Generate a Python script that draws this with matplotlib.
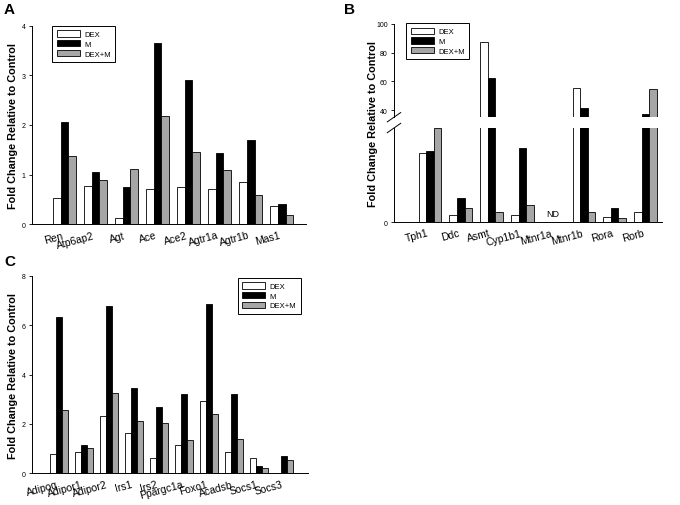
"""
Three-panel grouped bar chart: fold change of gene expression (DEX, M, DEX+M).
Writes out.png.
"""

import matplotlib
matplotlib.use("Agg")
import matplotlib.pyplot as plt
import numpy as np

plt.rcParams["font.family"] = ["Liberation Sans", "DejaVu Sans"]

GROUPS = ["DEX", "M", "DEX+M"]
FACE = ["white", "black", "#a6a6a6"]

# panel A
genes_a = ["Ren", "Atp6ap2", "Agt", "Ace", "Ace2", "Agtr1a", "Agtr1b", "Mas1"]
dex_a = [0.52, 0.77, 0.12, 0.72, 0.75, 0.71, 0.85, 0.36]
m_a = [2.07, 1.05, 0.75, 3.66, 2.90, 1.43, 1.69, 0.40]
dexm_a = [1.38, 0.90, 1.12, 2.19, 1.45, 1.09, 0.59, 0.19]

# panel B (broken axis; lower part in its own units 0-10)
genes_b = ["Tph1", "Ddc", "Asmt", "Cyp1b1", "Mtnr1a", "Mtnr1b", "Rora", "Rorb"]
dex_b = [7.3, 0.7, 87.2, 0.7, np.nan, 55.1, 0.5, 1.06]
m_b = [7.55, 2.55, 62.3, 7.9, np.nan, 41.6, 1.52, 37.2]
dexm_b = [10.0, 1.52, 1.06, 1.77, np.nan, 1.06, 0.43, 55.0]

# panel C
genes_c = ["Adipoq", "Adipor1", "Adipor2", "Irs1", "Irs2", "Ppargc1a",
           "Foxo1", "Acadsb", "Socs1", "Socs3"]
dex_c = [0.78, 0.88, 2.31, 1.62, 0.63, 1.16, 2.94, 0.88, 0.61, np.nan]
m_c = [6.34, 1.13, 6.77, 3.44, 2.67, 3.20, 6.84, 3.20, 0.28, 0.69]
dexm_c = [2.55, 1.01, 3.27, 2.13, 2.05, 1.34, 2.42, 1.38, 0.22, 0.55]

W, H = 680, 506
BAR = 0.245


def px_axes(fig, left, top, right, bottom):
    return fig.add_axes([left / W, 1 - bottom / H, (right - left) / W, (bottom - top) / H])


def bars(ax, series):
    x = np.arange(len(series[0]))
    handles = []
    for i, vals in enumerate(series):
        h = ax.bar(x + (i - 1) * BAR, vals, BAR, color=FACE[i],
                   edgecolor="black", linewidth=0.6, label=GROUPS[i])
        handles.append(h)
    return x, handles


def style(ax, genes, x, xlim):
    for s in ("top", "right"):
        ax.spines[s].set_visible(False)
    for s in ("left", "bottom"):
        ax.spines[s].set_linewidth(0.7)
    ax.set_xlim(*xlim)
    ax.set_xticks(x)
    ax.set_xticklabels(genes, rotation=15, ha="right", fontsize=7.5)
    ax.tick_params(axis="x", length=0, pad=4)
    ax.tick_params(axis="y", length=2.5, width=0.6, labelsize=5, pad=2)


def legend(ax, handles, loc):
    ax.legend(handles=handles, loc="upper left", bbox_to_anchor=loc,
              fontsize=5.5, frameon=True, fancybox=False, edgecolor="black",
              framealpha=1, handlelength=3.0, handleheight=0.9,
              borderpad=0.6, labelspacing=0.25, handletextpad=0.6,
              borderaxespad=0).get_frame().set_linewidth(0.7)


def main():
    fig = plt.figure(figsize=(W / 100, H / 100), dpi=100)

    # A
    ax = px_axes(fig, 32, 26.7, 306, 225.3)
    x, hs = bars(ax, [dex_a, m_a, dexm_a])
    style(ax, genes_a, x, (-1.04, 7.78))
    ax.set_ylim(0, 4)
    ax.set_yticks([0, 1, 2, 3, 4])
    legend(ax, hs, (0.073, 1.0))
    fig.text(13 / W, 1 - 126 / H, "Fold Change Relative to Control", rotation=90,
             ha="center", va="center", fontsize=7.8, fontweight="bold")
    fig.text(4 / W, 1 - 10 / H, "A", fontsize=11, fontweight="bold", va="center")

    # B, upper and lower parts
    up = px_axes(fig, 394, 25, 662, 118.2)
    lo = px_axes(fig, 394, 129, 662, 223)
    for a in (up, lo):
        x, hs = bars(a, [dex_b, m_b, dexm_b])
        style(a, genes_b, x, (-1.17, 7.54))
    up.set_ylim(35, 100)
    up.set_yticks([40, 60, 80, 100])
    up.spines["bottom"].set_visible(False)
    up.tick_params(axis="x", labelbottom=False)
    lo.set_ylim(0, 10)
    lo.set_yticks([0])
    lo.spines["top"].set_visible(False)
    legend(up, hs, (0.045, 1.01))
    lo.text(4, 0.9, "ND", ha="center", va="center", fontsize=6.5)
    # break marks on the left spine
    for a, yb in ((up, 0.0), (lo, 1.0)):
        a.plot([-0.025, 0.025], [yb - 0.05, yb + 0.05], transform=a.transAxes,
               color="black", lw=0.7, clip_on=False)
    fig.text(373 / W, 1 - 124 / H, "Fold Change Relative to Control", rotation=90,
             ha="center", va="center", fontsize=7.8, fontweight="bold")
    fig.text(344 / W, 1 - 10 / H, "B", fontsize=11, fontweight="bold", va="center")

    # C
    ax = px_axes(fig, 32, 276.7, 308, 474.3)
    x, hs = bars(ax, [dex_c, m_c, dexm_c])
    style(ax, genes_c, x, (-1.08, 9.97))
    ax.set_ylim(0, 8)
    ax.set_yticks([0, 2, 4, 6, 8])
    legend(ax, hs, (0.745, 0.99))
    fig.text(13 / W, 1 - 376 / H, "Fold Change Relative to Control", rotation=90,
             ha="center", va="center", fontsize=7.8, fontweight="bold")
    fig.text(4 / W, 1 - 262 / H, "C", fontsize=11, fontweight="bold", va="center")

    fig.savefig("out.png", dpi=100, facecolor="white")


if __name__ == "__main__":
    main()
